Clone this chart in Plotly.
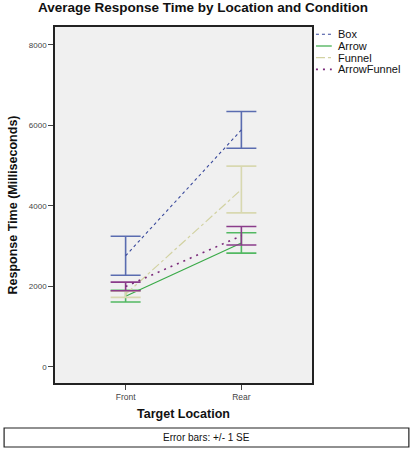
import plotly.graph_objects as go

categories = ["Front", "Rear"]
series_names = ["Box", "Arrow", "Funnel", "ArrowFunnel"]
box_mean = [2760, 5885]
box_upper = [3245, 6340]
box_lower = [2275, 5430]
arrow_mean = [1755, 3078]
arrow_upper = [1900, 3330]
arrow_lower = [1610, 2825]
funnel_mean = [1802, 4405]
funnel_upper = [1880, 4985]
funnel_lower = [1725, 3825]
af_mean = [1997, 3255]
af_upper = [2105, 3485]
af_lower = [1890, 3025]
y_ticks = [0, 2000, 4000, 6000, 8000]

means = [box_mean, arrow_mean, funnel_mean, af_mean]
uppers = [box_upper, arrow_upper, funnel_upper, af_upper]
lowers = [box_lower, arrow_lower, funnel_lower, af_lower]
line_colors = ["#3a4a9c", "#3aaa48", "#d2d2a2", "#7a2a7a"]
bar_colors = ["#5a6cb0", "#52b862", "#d8d8b0", "#8a3c8a"]
dashes = ["dot", "solid", "dashdot", "2px,5px"]
widths = [1.1, 1.2, 1.2, 1.6]

fig = go.Figure()
for name, m, u, l, lc, bc, d, w in zip(series_names, means, uppers, lowers,
                                       line_colors, bar_colors, dashes, widths):
    fig.add_trace(go.Scatter(
        x=categories, y=m, name=name, mode="lines",
        line=dict(color=lc, dash=d, width=w),
        error_y=dict(type="data", symmetric=False,
                     array=[ui - mi for ui, mi in zip(u, m)],
                     arrayminus=[mi - li for li, mi in zip(l, m)],
                     color=bc, thickness=1.6, width=15),
        showlegend=False,
    ))

# manual legend (short line samples as in the reference)
shapes = []
annotations = []
L, R, T, B = 52, 312, 27, 383
W, H = R - L, B - T
def px(x):
    return (x - L) / W
def py(y):
    return (B - y) / H

leg_y = [34.3, 46.0, 57.7, 69.4]
for name, lc, d, w, yy in zip(series_names, line_colors, dashes, widths, leg_y):
    shapes.append(dict(type="line", xref="paper", yref="paper",
                       x0=px(316), x1=px(332), y0=py(yy), y1=py(yy),
                       line=dict(color=lc, dash=d, width=w)))
    annotations.append(dict(text=name, xref="paper", yref="paper",
                            x=px(336), y=py(yy), xanchor="left", yanchor="middle",
                            showarrow=False,
                            font=dict(family="Liberation Sans, Arial", size=11, color="#111")))

# error bar note box
shapes.append(dict(type="rect", xref="paper", yref="paper",
                   x0=px(0.5), x1=px(410), y0=py(428), y1=py(447),
                   line=dict(color="#222", width=1.2), fillcolor="white", layer="above"))
annotations.append(dict(text="Error bars: +/- 1 SE", xref="paper", yref="paper",
                        x=px(205), y=py(437.5), xanchor="center", yanchor="middle",
                        showarrow=False,
                        font=dict(family="Liberation Sans, Arial", size=10, color="#111")))

fig.update_layout(
    width=414, height=467,
    margin=dict(l=L, r=414 - R, t=T, b=467 - B),
    paper_bgcolor="white", plot_bgcolor="#f0f0f0",
    title=dict(text="<b>Average Response Time by Location and Condition</b>",
               x=203 / 414, xanchor="center", y=1 - 7 / 467, yanchor="middle",
               font=dict(family="Liberation Sans, Arial", size=13.5, color="#111")),
    font=dict(family="Liberation Sans, Arial"),
    shapes=shapes, annotations=annotations,
    showlegend=False,
)
fig.update_xaxes(
    type="category", range=[-0.61, 1.61],
    showline=True, mirror=True, linecolor="#222", linewidth=1.5,
    ticks="outside", ticklen=5, tickcolor="#444", tickwidth=1,
    tickfont=dict(size=8.5, color="#444"), showgrid=False, zeroline=False,
    title=dict(text="<b>Target Location</b>", standoff=8,
               font=dict(size=12.5, color="#111")),
)
fig.update_yaxes(
    range=[-400, 8440], tickvals=y_ticks,
    showline=True, mirror=True, linecolor="#222", linewidth=1.5,
    ticks="outside", ticklen=5, tickcolor="#444", tickwidth=1,
    tickfont=dict(size=8, color="#444"), showgrid=False, zeroline=False,
    title=dict(text="<b>Response Time (Milliseconds)</b>", standoff=8,
               font=dict(size=12.5, color="#111")),
)
fig.write_html("out.html")
